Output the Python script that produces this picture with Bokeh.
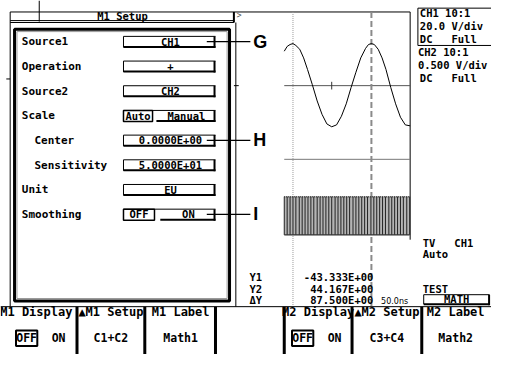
from bokeh.plotting import figure
from bokeh.models import Range1d
from bokeh.core.properties import value
from bokeh.embed import file_html
from bokeh.resources import INLINE

# ---------------- data ----------------
dialog_title = "M1 Setup"
dialog_labels = ["Source1", "Operation", "Source2", "Scale", "Center", "Sensitivity", "Unit", "Smoothing"]
dialog_sub = [False, False, False, False, True, True, False, False]
dialog_values = ["CH1", "+", "CH2", "", "0.0000E+00", "5.0000E+01", "EU", ""]
scale_options = ["Auto", "Manual"]
smoothing_options = ["OFF", "ON"]
callouts = ["G", "H", "I"]
callout_rows = [0, 4, 7]

ch_info = ["CH1 10:1", "20.0 V/div", "DC   Full", "CH2 10:1", "0.500 V/div", "DC   Full"]
trigger_info = ["TV   CH1", "Auto"]
cursor_names = ["Y1", "Y2", "ΔY"]
cursor_values = ["-43.333E+00", "44.167E+00", "87.500E+00"]
time_div = "50.0ns"
math_info = ["TEST", "MATH"]

softkey_titles = ["M1 Display", "▲M1 Setup", "M1 Label", "", "M2 Display", "▲M2 Setup", "M2 Label"]
softkey_values = ["", "C1+C2", "Math1", "", "", "C3+C4", "Math2"]
onoff = ["OFF", "ON"]

# CH1 trace (screen samples, x / y in screen units)
wave_x = [293, 296, 299, 302, 305, 309, 313, 317, 322, 327, 332, 337, 342, 347, 352, 357,
          362, 367, 372, 377, 380, 383, 386, 390, 394, 398, 403, 408, 413, 418, 423]
wave_y = [53, 48, 46, 45, 47, 51, 60, 72, 88, 105, 119, 129, 132, 130, 121, 108,
          91, 75, 60, 50, 46, 45, 46, 51, 60, 72, 91, 108, 122, 130, 131]

# CH2 burst: pulse edges and levels
burst_edges = [293, 296, 299, 302, 305, 308.5, 311.5, 314.5, 317.5, 320.5, 323.5, 327, 330, 333,
               336, 339, 342, 345.5, 348.5, 351.5, 354.5, 357.5, 360.5, 364, 367, 370, 373, 376,
               379, 382.5, 385.5, 388.5, 391.5, 394.5, 397.5, 401, 404, 407, 410, 413, 416,
               419.5, 422.5]
burst_levels = [205, 245]

# ---------------- figure ----------------
W, H = 507, 370
p = figure(width=491, height=354, x_range=Range1d(0, W), y_range=Range1d(H, 0),
           output_backend="svg", toolbar_location=None, min_border=0)
p.axis.visible = False
p.grid.visible = False
p.outline_line_color = None
p.background_fill_color = "white"
p.border_fill_color = "white"

SF = "DejaVu Sans Mono"
NB = "\u00a0"


def txt(xs, ys, texts, size="10.5px", align="left", font=SF, style="bold", color="black"):
    texts = [t.replace(" ", NB) for t in texts]
    p.text(x=xs, y=ys, text=texts, text_font=value(font), text_font_size=size,
           text_font_style=style, text_align=align, text_baseline="middle", text_color=color)


def seg(x0, y0, x1, y1, w=1, color="black", dash="solid"):
    p.segment(x0=x0, y0=y0, x1=x1, y1=y1, line_width=w, line_color=color, line_dash=dash)


MENU_Y = 320

# ---- frame / title bar ----
seg([40], [0], [40], [22])
seg([10], [12], [423], [12])
seg([10], [12], [10], [MENU_Y])
seg([10, 10], [21, 23], [241, 241], [21, 23])
seg([241], [12], [241], [23], w=2)
seg([243], [23], [243], [MENU_Y])
seg([241, 6], [89, 82], [246, 10], [89, 82])
txt([126], [16.5], [dialog_title], align="center")
txt([244], [16], [">"], size="8px", style="normal", color="#555")

# dialog box
p.quad(left=[14.5], right=[236.5], top=[30], bottom=[314], fill_color=None,
       line_color="black", line_width=3)
p.quad(left=[17], right=[234], top=[32.5], bottom=[311.5], fill_color=None,
       line_color="#999", line_width=1)

row_y = [43 + 25.8 * i for i in range(len(dialog_labels))]
lab_x = [35 if s else 22 for s in dialog_sub]
txt(lab_x, row_y, dialog_labels, size="11px")

bx0, bx1 = 127, 222
for i, v in enumerate(dialog_values):
    y = row_y[i]
    if v:
        seg([bx0, bx0], [y - 5.5, y - 5.5], [bx1, bx0], [y - 5.5, y + 6])
        seg([bx0], [y + 5.5], [bx1], [y + 5.5], w=2)
        seg([bx1 - 1], [y - 5.5], [bx1 - 1], [y + 6.5], w=2)
        txt([(bx0 + bx1) / 2 + 1], [y], [v], align="center")

# Scale row (Auto / Manual)
ys = row_y[3]
seg([bx0], [ys - 5.5], [bx1], [ys - 5.5])
p.quad(left=[bx0], right=[157], top=[ys - 5.5], bottom=[ys + 6], fill_color=None,
       line_color="black", line_width=1.5)
txt([142], [ys], [scale_options[0]], align="center")
seg([161], [ys + 5.5], [bx1], [ys + 5.5], w=2)
seg([bx1 - 1], [ys - 5.5], [bx1 - 1], [ys + 6.5], w=2)
txt([192], [ys], [scale_options[1]], align="center")

# Smoothing row (OFF / ON)
ym = row_y[7]
seg([bx0], [ym - 5.5], [bx1], [ym - 5.5])
p.quad(left=[bx0], right=[159], top=[ym - 5.5], bottom=[ym + 6], fill_color=None,
       line_color="black", line_width=1.5)
txt([143], [ym], [smoothing_options[0]], align="center")
seg([165], [ym + 5.5], [bx1], [ym + 5.5], w=2)
seg([bx1 - 1], [ym - 5.5], [bx1 - 1], [ym + 6.5], w=2)
txt([194], [ym], [smoothing_options[1]], align="center")

# callouts
cy = [row_y[r] for r in callout_rows]
seg([213] * 3, cy, [258] * 3, cy, w=1.2)
p.text(x=[261] * 3, y=cy, text=callouts, text_font=value("Liberation Sans"),
       text_font_size="18px", text_font_style="bold", text_baseline="middle",
       text_align="left", text_color="black")

# ---- scope screen ----
seg([423], [12], [423], [250])
seg([293], [89], [423], [89], color="#555")
seg([293], [166], [423], [166], color="#777")
seg([342], [85], [342], [93], color="#333")
seg([302], [12], [302], [MENU_Y], color="#9a9a9a", dash="1 1")
seg([383], [12], [383], [MENU_Y], w=2, color="#8a8a8a", dash="6 3")

p.line(wave_x, wave_y, line_color="black", line_width=1)

# burst
lo, hi = burst_levels
p.quad(left=[burst_edges[0]], right=[burst_edges[-1]], top=[lo], bottom=[hi],
       fill_color="#b4b4b4", line_color=None)
seg(burst_edges, [lo] * len(burst_edges), burst_edges, [hi] * len(burst_edges),
    w=1, color="#222")
seg([burst_edges[0]], [lo], [burst_edges[-1]], [lo], w=1.5, color="#333", dash="1 1")
seg([burst_edges[0]], [hi], [burst_edges[-1]], [hi], w=1.2, color="#333")

# right info panel (box runs off the right edge)
seg([431, 431, 431], [8, 47, 8], [507, 507, 431], [8, 47, 47])
info_y = [13, 26.5, 40, 53.5, 67, 81]
txt([433, 433, 433, 431, 431, 433], info_y, ch_info)
txt([436, 436], [253, 265], trigger_info)
txt([436], [302], [math_info[0]])
seg([437, 437], [307.5, 307.5], [505, 437], [307.5, 317.5])
seg([437], [317.5], [505], [317.5], w=2)
seg([504.5], [307.5], [504.5], [318.5], w=2)
txt([471], [312.5], [math_info[1]], align="center")

# cursor readouts
cur_y = [289.5, 301.5, 313.5]
txt([257] * 3, cur_y, cursor_names)
txt([385] * 3, cur_y, cursor_values, align="right")
txt([393], [315], [time_div], size="8px", style="normal", font="DejaVu Sans")

# ---- soft key menu ----
seg([0], [MENU_Y], [507], [MENU_Y])
sep_x = [79, 149, 222, 293, 363, 435]
seg(sep_x, [MENU_Y] * len(sep_x), sep_x, [370] * len(sep_x), w=3)
key_cx = [37, 114, 186, 258, 328, 399, 470]
tx, tt = [], []
vx, vt = [], []
for cx, t, v in zip(key_cx, softkey_titles, softkey_values):
    if t:
        tx.append(cx)
        tt.append(t)
    if v:
        vx.append(cx)
        vt.append(v)
txt(tx, [326] * len(tx), tt, size="12px", align="center")
txt(vx, [353] * len(vx), vt, size="11.5px", align="center")
# OFF / ON selectors
for off_c, on_c in [(27, 60), (312, 345)]:
    p.quad(left=[off_c - 11], right=[off_c + 11], top=[345], bottom=[361], fill_color=None,
           line_color="black", line_width=2)
    txt([off_c, on_c], [353, 353], onoff, size="11.5px", align="center")

open("out.html", "w").write(file_html(p, INLINE))
